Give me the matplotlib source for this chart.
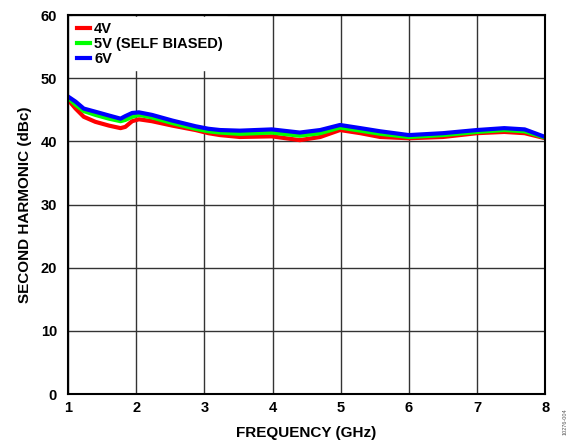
import matplotlib.pyplot as plt

# frequency (GHz) and second harmonic (dBc)
freq = [1.0, 1.11, 1.23, 1.40, 1.60, 1.77, 1.84, 1.94, 2.04, 2.23, 2.53, 2.87, 3.06, 3.23,
        3.52, 3.99, 4.40, 4.70, 4.99, 5.29, 5.58, 6.0, 6.5, 7.0, 7.4, 7.7, 8.0]
h2_4v = [46.6, 45.2, 43.9, 43.1, 42.5, 42.1, 42.3, 43.2, 43.5, 43.2, 42.5, 41.8, 41.3, 41.0,
         40.7, 40.8, 40.2, 40.7, 41.8, 41.3, 40.7, 40.5, 40.7, 41.3, 41.5, 41.3, 40.5]
h2_5v = [46.9, 45.8, 44.8, 44.2, 43.6, 43.2, 43.4, 43.9, 44.2, 43.8, 42.9, 42.0, 41.6, 41.4,
         41.2, 41.4, 40.9, 41.3, 42.2, 41.7, 41.2, 40.7, 41.0, 41.5, 41.8, 41.6, 40.6]
h2_6v = [47.1, 46.3, 45.2, 44.7, 44.1, 43.6, 44.0, 44.5, 44.6, 44.2, 43.3, 42.4, 42.0, 41.8,
         41.7, 41.9, 41.4, 41.8, 42.6, 42.1, 41.6, 41.0, 41.3, 41.8, 42.1, 41.9, 40.7]

labels = ['4V', '5V (SELF BIASED)', '6V']
colors = ['#ff0000', '#00ff00', '#0000ff']

plt.rcParams['font.family'] = ['Liberation Sans', 'DejaVu Sans']
plt.rcParams['font.weight'] = 'bold'

fig = plt.figure(figsize=(5.72, 4.44), dpi=100)
ax = fig.add_axes([0.119, 0.1126, 0.834, 0.8534])

for y, lab, c in zip([h2_4v, h2_5v, h2_6v], labels, colors):
    ax.plot(freq, y, color=c, linewidth=3, label=lab, solid_joinstyle='round')

ax.set_xlim(1, 8)
ax.set_ylim(0, 60)
ax.set_xticks(range(1, 9))
ax.set_yticks(range(0, 61, 10))
ax.grid(True, color='#333333', linewidth=1)
ax.set_axisbelow(True)
for s in ax.spines.values():
    s.set_linewidth(1.5)
ax.tick_params(length=0, labelsize=10.5)
ax.tick_params(axis='y', pad=8)
ax.tick_params(axis='x', pad=5)
for t in ax.get_xticklabels() + ax.get_yticklabels():
    t.set_fontweight('bold')

ax.set_xlabel('FREQUENCY (GHz)', fontsize=11, fontweight='bold', labelpad=8)
ax.set_ylabel('SECOND HARMONIC (dBc)', fontsize=11, fontweight='bold', labelpad=6)

leg = ax.legend(loc='upper left', frameon=True, fontsize=10.5, handlelength=0.9,
                handletextpad=0.3, labelspacing=0.08, borderaxespad=0.15,
                borderpad=0.3, fancybox=False, bbox_to_anchor=(0.004, 1))
leg.get_frame().set_edgecolor('white')
leg.get_frame().set_facecolor('white')
leg.get_frame().set_alpha(1)
for t in leg.get_texts():
    t.set_fontweight('bold')

fig.text(0.988, 0.02, '10276-004', rotation=90, fontsize=4, color='#555555',
         fontweight='normal', ha='center', va='bottom')

fig.savefig('out.png', dpi=100)
